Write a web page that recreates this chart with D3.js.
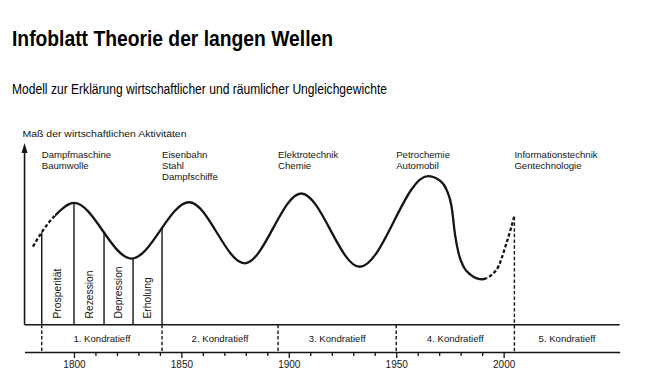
<!DOCTYPE html>
<html>
<head>
<meta charset="utf-8">
<script src="https://cdn.jsdelivr.net/npm/d3@7"></script>
<style>
  html, body { margin: 0; padding: 0; background: #fff; }
  svg { display: block; }
  text { font-family: "Liberation Sans", Arial, Helvetica, sans-serif; }
</style>
</head>
<body>
<svg id="chart" width="645" height="391"></svg>
<script>
// ---------------- data ----------------
const waveYears    = [1780.9, 1785.7, 1791.2, 1800.0, 1826.8, 1853.6, 1879.5, 1905.8, 1933.0, 1964.8, 1970.2, 1973.5, 1975.8, 1977.4, 1979.1, 1981.4, 1984.7, 1989.6, 1996.6, 2001.3, 2004.9];
const waveActivity = [43.0,   52.1,   60.1,   67.0,   36.4,   67.4,   33.8,   72.2,   31.9,   81.8,   79.4,   74.1,   64.8,   49.4,   38.9,   31.8,   27.4,   25.0,   30.1,   44.8,   59.4];
const solidFrom = 1791.2, solidTo = 1992.0;   // the curve is dashed outside this span

const phaseYears  = [1785, 1800, 1814, 1827.5, 1841];
const phaseLabels = ["Prosperität", "Rezession", "Depression", "Erholung"];

const boundaryYears = [1785, 1841, 1895, 1950, 2005];
const waveLabels    = ["1. Kondratieff", "2. Kondratieff", "3. Kondratieff", "4. Kondratieff", "5. Kondratieff"];
const innovations   = [
  ["Dampfmaschine", "Baumwolle"],
  ["Eisenbahn", "Stahl", "Dampfschiffe"],
  ["Elektrotechnik", "Chemie"],
  ["Petrochemie", "Automobil"],
  ["Informationstechnik", "Gentechnologie"]
];
const tickYears  = [1800, 1810, 1820, 1830, 1840, 1850, 1860, 1870, 1880, 1890, 1900, 1910, 1920, 1930, 1940, 1950, 1960, 1970, 1980, 1990, 2000];
const labelYears = [1800, 1850, 1900, 1950, 2000];

const titleText    = "Infoblatt Theorie der langen Wellen";
const subtitleText = "Modell zur Erklärung wirtschaftlicher und räumlicher Ungleichgewichte";
const yAxisLabel   = "Maß der wirtschaftlichen Aktivitäten";

// ---------------- layout ----------------
const svg = d3.select("#chart");
const ink = "#151515";
const axisY = 352, bandTop = 324.7, plotTop = 143;
const xStart = 1777, xEnd = 2054;

const x = d3.scaleLinear().domain([xStart, xEnd]).range([24.55, 619.65]);
const y = d3.scaleLinear().domain([0, 100]).range([bandTop, plotTop]);

// titles
svg.append("text").attr("x", 12).attr("y", 45.7)
  .attr("font-size", 22).attr("font-weight", "bold").attr("fill", "#000")
  .attr("textLength", 321).attr("lengthAdjust", "spacingAndGlyphs")
  .text(titleText);
svg.append("text").attr("x", 12).attr("y", 93.5)
  .attr("font-size", 14).attr("fill", "#000")
  .attr("textLength", 375).attr("lengthAdjust", "spacingAndGlyphs")
  .text(subtitleText);

// y axis label + arrow
svg.append("text").attr("x", 22.5).attr("y", 136.7)
  .attr("font-size", 9).attr("fill", ink)
  .attr("textLength", 164).attr("lengthAdjust", "spacingAndGlyphs")
  .text(yAxisLabel);
svg.append("line").attr("x1", x(xStart)).attr("x2", x(xStart))
  .attr("y1", plotTop + 6).attr("y2", bandTop)
  .attr("stroke", ink).attr("stroke-width", 1.6);
svg.append("path")
  .attr("d", `M${x(xStart)},${plotTop} L${x(xStart) - 3},${plotTop + 10} L${x(xStart) + 3},${plotTop + 10} Z`)
  .attr("fill", ink);

// band line
svg.append("line").attr("x1", x(xStart)).attr("x2", x(xEnd))
  .attr("y1", bandTop).attr("y2", bandTop)
  .attr("stroke", ink).attr("stroke-width", 1.5);

// x axis
const xAxis = d3.axisBottom(x)
  .tickValues(tickYears)
  .tickSizeInner(4).tickSizeOuter(0).tickPadding(4.5)
  .tickFormat(d => labelYears.includes(d) ? d : "");
const gx = svg.append("g").attr("transform", `translate(0,${axisY})`).call(xAxis);
gx.select(".domain").attr("stroke", ink).attr("stroke-width", 1.6);
gx.selectAll(".tick line").attr("stroke", ink).attr("stroke-width", 1.3)
  .attr("y2", d => labelYears.includes(d) ? 6 : 4);
gx.selectAll(".tick text").attr("font-size", 10).attr("fill", ink)
  .attr("font-family", "'Liberation Sans', Arial, sans-serif");

// curve
const line = d3.line()
  .x((d, i) => x(waveYears[i]))
  .y((d, i) => y(waveActivity[i]))
  .curve(d3.curveMonotoneX);
const pathD = line(waveYears);

const defs = svg.append("defs");
defs.append("clipPath").attr("id", "solidClip").append("rect")
  .attr("x", x(solidFrom)).attr("y", 0)
  .attr("width", x(solidTo) - x(solidFrom)).attr("height", 391);
const dc = defs.append("clipPath").attr("id", "dashClip");
dc.append("rect").attr("x", 0).attr("y", 0).attr("width", x(solidFrom)).attr("height", 391);
dc.append("rect").attr("x", x(solidTo)).attr("y", 0).attr("width", 645 - x(solidTo)).attr("height", 391);

const curve = svg.append("path").attr("d", pathD)
  .attr("fill", "none").attr("stroke", ink).attr("stroke-width", 2.3)
  .attr("clip-path", "url(#solidClip)");
svg.append("path").attr("d", pathD)
  .attr("fill", "none").attr("stroke", ink).attr("stroke-width", 2.3)
  .attr("stroke-dasharray", "3.5,2.2")
  .attr("clip-path", "url(#dashClip)");

// find curve height at a given x position
const node = curve.node();
const total = node.getTotalLength();
function curveYAt(px) {
  let lo = 0, hi = total;
  for (let k = 0; k < 40; k++) {
    const mid = (lo + hi) / 2;
    if (node.getPointAtLength(mid).x < px) lo = mid; else hi = mid;
  }
  return node.getPointAtLength((lo + hi) / 2).y;
}

// phase lines (first Kondratieff)
phaseYears.forEach(yr => {
  svg.append("line").attr("x1", x(yr)).attr("x2", x(yr))
    .attr("y1", curveYAt(x(yr))).attr("y2", bandTop)
    .attr("stroke", ink).attr("stroke-width", 1.4);
});
phaseLabels.forEach((lab, i) => {
  const cx = x((phaseYears[i] + phaseYears[i + 1]) / 2);
  svg.append("text")
    .attr("transform", `translate(${cx + 3.6},318.5) rotate(-90)`)
    .attr("font-size", 10.3).attr("fill", ink)
    .text(lab);
});

// boundary dashed lines
boundaryYears.forEach((yr, i) => {
  const top = (i === boundaryYears.length - 1) ? curveYAt(x(yr) - 0.2) : bandTop;
  svg.append("line").attr("x1", x(yr)).attr("x2", x(yr))
    .attr("y1", top).attr("y2", axisY)
    .attr("stroke", ink).attr("stroke-width", 1.4)
    .attr("stroke-dasharray", "3.5,2.2");
});

// Kondratieff labels
waveLabels.forEach((lab, i) => {
  const a = boundaryYears[i];
  const b = i + 1 < boundaryYears.length ? boundaryYears[i + 1] : xEnd;
  svg.append("text").attr("x", x((a + b) / 2)).attr("y", 342.3)
    .attr("text-anchor", "middle").attr("font-size", 9.6).attr("fill", ink)
    .text(lab);
});

// innovation labels
innovations.forEach((lines, i) => {
  const t = svg.append("text").attr("x", x(boundaryYears[i])).attr("y", 157.7)
    .attr("font-size", 9.6).attr("fill", ink);
  lines.forEach((l, j) => {
    t.append("tspan").attr("x", x(boundaryYears[i])).attr("dy", j === 0 ? 0 : 11.3).text(l);
  });
});
</script>
</body>
</html>
